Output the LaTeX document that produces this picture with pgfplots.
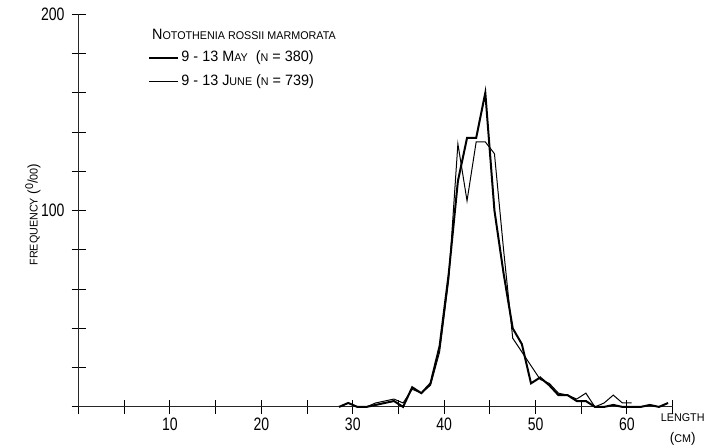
\documentclass[border=0pt]{standalone}
\usepackage{pgfplots}
\pgfplotsset{compat=1.18}
\usepackage{fontspec}
\setmainfont{Liberation Sans}[FakeStretch=0.78]
\newfontfamily\legfont{Liberation Sans}[FakeStretch=0.96]
\newcommand\sm[1]{{\fontsize{5.6}{6}\selectfont #1}}
\pgfplotstableread{
x y
28.5 0
29.5 2
30.5 0
31.5 0
32.5 1
33.5 2
34.5 3
35.5 0
36.5 10
37.5 7
38.5 12
39.5 31
40.5 68
41.5 115
42.5 137
43.5 137
44.5 160
45.5 100
46.5 68
47.5 40
48.5 32
49.5 12
50.5 15
51.5 11
52.5 6
53.5 6
54.5 3
55.5 3
56.5 0
57.5 0
58.5 1
59.5 0
60.5 0
61.5 0
62.5 1
63.5 0
64.5 2
}\maydata
\pgfplotstableread{
x y
31.5 0
32.5 2
33.5 3
34.5 4
35.5 2
36.5 9
37.5 7
38.5 11
39.5 28
40.5 65
41.5 134
42.5 105
43.5 135
44.5 135
45.5 129
46.5 80
47.5 35
48.5 28
49.5 21
50.5 14
51.5 12
52.5 7
53.5 6
54.5 4
55.5 7
56.5 0
57.5 2
58.5 6
59.5 2
60.5 2
}\junedata
\begin{document}
\begin{tikzpicture}
\begin{axis}[
  x=4.57pt, y=0.9815pt,
  xmin=0, xmax=65, ymin=0, ymax=200,
  axis lines=left,
  axis line style={-, line width=0.5pt, black!85},
  clip=false,
  tick align=center, major tick length=7pt,
  tick style={black, line width=0.5pt},
  xtick={0,5,...,65}, xticklabels={,,10,,20,,30,,40,,50,,60,},
  ytick={0,20,...,200}, yticklabels={,,,,,100,,,,,200},
  /pgf/number format/assume math mode=true,
  ticklabel style={font=\fontsize{9}{10}\selectfont},
  xticklabel style={yshift=1.5pt},
  legend cell align=left,
  legend image code/.code={\draw[#1] (0pt,0pt) -- (14.5pt,0pt);},
  legend style={at={(axis cs:7.6,171.7)}, anchor=west, draw=none, fill=none,
    inner sep=0pt, row sep=3pt,
    font=\legfont\fontsize{7.5}{8}\selectfont,
    nodes={inner sep=1pt, text height=5.5pt, text depth=1.5pt}},
]
\addplot[black, line width=1pt] table[x=x,y=y] {\maydata};
\addlegendentry{9 - 13 M\sm{AY}\ \ (\sm{N} = 380)}
\addplot[black, line width=0.5pt] table[x=x,y=y] {\junedata};
\addlegendentry{9 - 13 J\sm{UNE} (\sm{N} = 739)}
\node[anchor=base west, inner sep=0pt, font=\legfont\fontsize{7.5}{8}\selectfont] at (axis cs:8.0,187) {N\sm{OTOTHENIA ROSSII MARMORATA}};
\node[rotate=90, anchor=center, font=\legfont\fontsize{7}{8}\selectfont] at (axis cs:-5.0,98) {\sm{FREQUENCY} ({\raisebox{0.6ex}{\sm{0}}}/\sm{00})};
\node[align=center, font=\legfont\fontsize{7}{10.5}\selectfont] at (axis cs:66.1,-11.7) {\sm{LENGTH}\\(\sm{CM})};
\coordinate (bl) at (axis cs:-8.6,-20.4);
\coordinate (tr) at (axis cs:69.85,207.3);
\end{axis}
\pgfresetboundingbox
\path (bl) rectangle (tr);
\end{tikzpicture}
\end{document}
